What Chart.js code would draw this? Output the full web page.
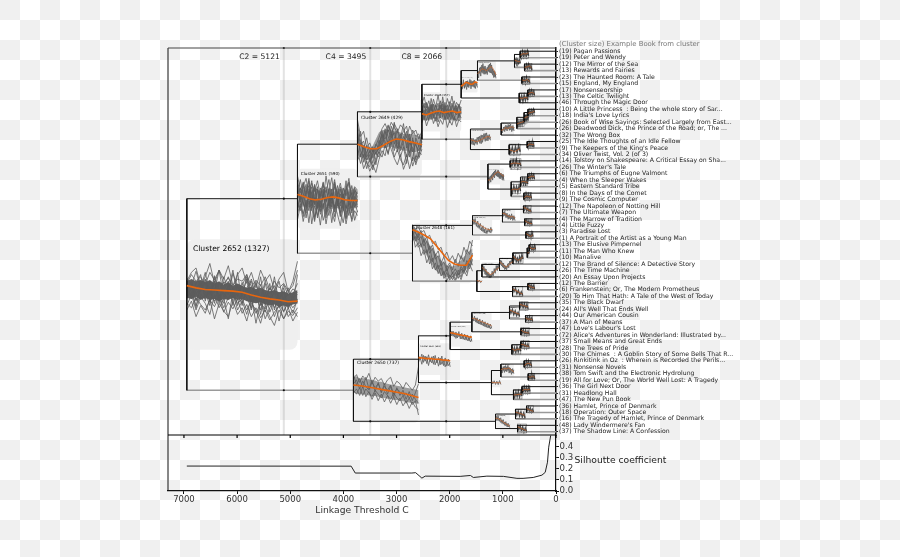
<!DOCTYPE html>
<html>
<head>
<meta charset="utf-8">
<style>
  html, body { margin: 0; padding: 0; width: 900px; height: 557px; overflow: hidden; }
  /* the source image has a baked-in "transparency" checkerboard */
  body { background: conic-gradient(#fff 25%, #f0f0f0 0 50%, #fff 0 75%, #f0f0f0 0) 0 0 / 40px 40px; }
  canvas { display: block; }
</style>
<script src="https://cdn.jsdelivr.net/npm/chart.js@4/dist/chart.umd.min.js"></script>
</head>
<body>
<canvas id="dendro" width="900" height="557"></canvas>
<script>
const leafSizes = [19,19,12,13,23,15,17,13,46,10,18,26,26,32,25,9,34,14,26,6,4,5,8,9,12,7,4,4,3,1,13,11,10,12,26,20,12,6,20,35,24,44,37,47,72,37,28,30,26,31,38,19,36,31,47,36,18,16,48,37];
const leafTitles = [
  "Pagan Passions","Peter and Wendy","The Mirror of the Sea","Rewards and Fairies","The Haunted Room: A Tale","England, My England",
  "Nonsenseorship","The Celtic Twilight","Through the Magic Door","A Little Princess  : Being the whole story of Sar...","India's Love Lyrics",
  "Book of Wise Sayings: Selected Largely from East...","Deadwood Dick, the Prince of the Road; or, The ...","The Wrong Box","The Idle Thoughts of an Idle Fellow",
  "The Keepers of the King's Peace","Oliver Twist, Vol. 2 (of 3)","Tolstoy on Shakespeare: A Critical Essay on Sha...","The Winter's Tale","The Triumphs of Eugne Valmont",
  "When the Sleeper Wakes","Eastern Standard Tribe","In the Days of the Comet","The Cosmic Computer","The Napoleon of Notting Hill","The Ultimate Weapon",
  "The Marrow of Tradition","Little Fuzzy","Paradise Lost","A Portrait of the Artist as a Young Man","The Elusive Pimpernel","The Man Who Knew","Manalive",
  "The Brand of Silence: A Detective Story","The Time Machine","An Essay Upon Projects","The Barrier","Frankenstein; Or, The Modern Prometheus",
  "To Him That Hath: A Tale of the West of Today","The Black Dwarf","All's Well That Ends Well","Our American Cousin","A Man of Means","Love's Labour's Lost",
  "Alice's Adventures in Wonderland: Illustrated by...","Small Means and Great Ends","The Trees of Pride","The Chimes  : A Goblin Story of Some Bells That R...",
  "Rinkitink in Oz  : Wherein is Recorded the Perils...","Nonsense Novels","Tom Swift and the Electronic Hydrolung","All for Love; Or, The World Well Lost: A Tragedy",
  "The Girl Next Door","Headlong Hall","The New Pun Book","Hamlet, Prince of Denmark","Operation: Outer Space","The Tragedy of Hamlet, Prince of Denmark",
  "Lady Windermere's Fan","The Shadow Line: A Confession"
];

// merge tree: [threshold, upper child, lower child], 0 = a leaf book
const tree = [6946,
  [4864,
    [3735,
      [2523,
        [1784,
          [1477, [781, [674,0,0], [593,0,0]], [642,0,0]],
          [692, [529,0,0], 0]],
        [1609,
          [1031, [736, [600, [527,0,0], 0], 0], 0],
          [881, [542,0,0], 0]]],
      [1281,
        [862,0,0],
        [843, [668, [531,0,0], 0], [604,0,0]]]],
    [2700,
      [1571,
        [1007, [612,0,0], [590,0,0]],
        [566,0,0]],
      [1489,
        [1394, [1063, [811, [541, [505,0,0], 0], 0], 0], 0],
        [818, [528,0,0], 0]]]],
  [3811,
    [2587,
      [1991,
        [1583, [875, [687,0,0], [574,0,0]], [660,0,0]],
        [830, [662,0,0], 0]],
      [1214,
        [1037, [599,0,0], [523,0,0]],
        [800, [640,0,0], 0]]],
    [1138,
      [762, [555,0,0], 0],
      [724,0,0]]]];

// lower links that stay black in the picture, the other ones are grey
const blackLowerLinks = [3811,2587,1214,692,1489,1784,1991,1583,1138,1281,1609,1394,1063,1031];

const cutThresholds = [5121,3495,2066];
const cutLabels = ["C2 = 5121","C4 = 3495","C8 = 2066"];

const thresholdTicks = [7000,6000,5000,4000,3000,2000,1000,0];
const silhTicks = [0,0.1,0.2,0.3,0.4];
const silhThresholds = [6946,3854,3777,2712,2640,2523,2461,1803,1610,1555,1300,990,735,620,429,265,203,160,137,100];
const silhValues = [0.225,0.224,0.162,0.162,0.165,0.116,0.134,0.132,0.14,0.122,0.134,0.132,0.114,0.114,0.122,0.143,0.168,0.26,0.395,0.5];

const xTicksLabel = "Linkage Threshold C";
const silhTitle = "Silhoutte coefficient";
const headerText = "(Cluster size) Example Book from cluster";

// inset curves, 0 = bottom of the inset, 100 = top, keyed by merge threshold
const meanCurves = {
  6946:[58,56,54.5,54,53.5,53,52,49.5,47.5,46,45,43.5,44],
  4864:[57,54,50,48,49,52,53,51,48,47,47],
  3811:[58,57,55,53,51,49,47,45,42,39],
  3735:[50,46,43,43,48,54,58,57,54,52,49],
  2700:[89,85,80,74,62,50,38,32,30,30,47],
  2587:[55,54,52,52,50,50,48,47,45],
  2523:[45,42,46,50,52,48,50,52,48,50],
  1991:[64,62,58,55,52,50,46,44],
  1784:[38,48,62,58,50,52,64,60],
  1609:[48,44,40,40,46,54,60,64,60],
  1583:[70,68,62,58,52,48,42,38,32],
  1571:[75,70,60,50,40,32,28,30],
  1489:[60,50,40],
  1477:[32,45,60,55,50,62,72,55,28],
  1394:[70,55,38,28,38,58,68],
  1281:[28,30,42,58,72,80,72,60,52],
  1214:[55,50,48,50,46],
  1138:[72,70,60,48,36,26,18],
  1063:[72,58,40,30,42,60,70],
  1037:[55,65,62,70,55,40],
  1031:[40,45,60,55,62,68,58],
  1007:[70,65,50,40,45,30],
  881:[50,40,32,45,60],
  875:[75,60,45,32],
  862:[50,60,58,50],
  843:[40,50,45,60],
  830:[60,40,55,50],
  818:[75,60,40,25],
  811:[70,50,30,45,65],
  800:[45,50,55,55],
  781:[65,50,40,35],
  762:[70,60,50,35],
  736:[35,50,60,70],
  724:[70,55,40,28],
  692:[50,45,55,50],
  687:[72,60,50,40],
  674:[40,60,55,70],
  668:[45,55,50,40],
  662:[55,50,35,30],
  660:[70,50,40,35],
  642:[55,45,60,30],
  640:[40,55,50,60],
  612:[75,60,40,25],
  604:[30,55,45,40],
  600:[30,45,60,70],
  599:[30,55,60,35],
  593:[50,55,70,40],
  590:[70,50,35,30],
  574:[65,45,50,35],
  566:[70,50,30,55],
  555:[60,45,30,20],
  542:[35,60,55,50],
  541:[40,60,50,65],
  531:[40,50,65,50],
  529:[35,55,60,40],
  528:[70,50,40,30],
  527:[35,50,55,70],
  523:[55,45,60,40],
  505:[70,45,35,50]
};

const bandUpper = {
  6946:[62,64,62,63,61,63,60,62,59,61,58,60,58,56,57,55,56,54,53,54,52,53,51,52,54],
  4864:[66,68,64,70,66,64,68,66,62,66,64,68,66,62,66,64,68,62,66,64,66,64],
  3811:[70,71,68,69,67,67,65,65,63,63,61,60,59,58,57,56,55,54,53,52,51,50],
  3735:[66,56,48,42,42,48,58,68,72,72,72,72,70,70,68,66,66,66,66,64,62,62],
  2700:[94,92,88,84,78,72,64,58,50,44,38,34,30,28,28,30,34,38,44,48,54,58],
  2523:[66,66,64,66,68,68,66,66,68,66,64,66,66,64,66,64,64,64]
};
const bandLower = {
  6946:[47,46,48,45,47,45,46,44,46,45,47,45,46,44,43,42,43,41,40,41,39,40,39,41,42],
  4864:[36,34,38,32,36,34,38,34,36,32,38,34,32,36,34,32,36,34,32,36,34,34],
  3811:[46,45,44,44,43,42,41,41,40,39,38,37,37,35,35,34,33,32,31,30,30,29],
  3735:[38,30,28,26,26,30,36,42,44,44,46,46,44,42,42,40,40,40,38,38,40,40],
  2700:[74,72,68,62,54,46,38,30,22,18,14,12,10,10,10,12,14,16,20,24,28,32],
  2523:[30,28,28,30,32,32,30,32,34,30,30,30,30,28,30,28,28,30]
};

const grayCurves = {
  6946:[
    [60,68,62,66,59,70,63,72,60,65,58,64,62,68,57,63,58,66,54,62,56,60,53,58,72],
    [48,52,40,50,46,53,44,49,38,47,50,42,46,36,44,33,42,37,45,30,41,35,43,33,46],
    [55,62,50,58,64,52,60,47,57,66,54,49,61,52,64,48,59,46,56,50,62,44,52,47,50],
    [42,38,47,41,36,45,39,48,34,43,37,46,33,41,30,38,29,36,27,34,40,28,35,31,38],
    [65,58,71,55,63,49,67,54,61,50,69,57,48,66,52,60,47,62,51,58,45,59,49,55,52],
    [50,57,45,53,61,43,56,50,42,59,47,52,40,55,44,51,36,49,42,54,38,47,40,45,43],
    [58,46,54,62,48,57,42,61,51,46,56,40,52,47,38,53,44,34,48,38,46,52,37,48,42],
    [62,70,74,58,66,78,60,72,64,76,58,68,74,60,70,56,72,62,68,54,64,70,52,62,80],
    [36,44,30,40,33,46,28,42,35,30,44,32,38,26,42,36,24,40,30,22,36,28,38,26,34],
    [52,60,44,56,70,50,62,42,66,54,72,48,58,68,46,62,40,60,44,66,42,56,38,50,60],
    [40,50,36,48,42,32,50,38,46,28,52,36,44,32,48,24,44,28,38,46,26,42,30,36,30],
    [56,48,60,68,44,62,52,72,48,58,44,70,42,56,62,44,66,40,60,36,52,46,56,42,68],
    [46,56,38,60,52,40,66,44,54,62,40,58,50,64,36,54,32,52,34,44,48,34,44,38,44]],
  4864:[
    [60,82,55,74,48,70,40,66,52,78,44,62,85,50,72,42,68,55,76,46,64,58],
    [35,55,20,48,30,62,15,44,28,58,38,22,52,34,60,26,48,18,44,30,54,40],
    [70,48,78,58,84,45,74,36,68,50,88,56,42,75,38,66,50,80,40,72,48,62],
    [25,42,12,35,52,8,38,22,46,14,30,48,10,40,24,5,36,16,42,12,30,22],
    [50,68,40,60,72,30,56,70,35,62,28,46,66,32,55,20,58,34,62,26,50,36],
    [78,60,70,84,58,76,62,80,55,72,60,82,48,70,60,76,52,66,78,56,70,64],
    [42,30,56,18,46,34,12,50,24,42,8,36,52,20,44,30,10,38,22,48,14,30],
    [88,65,76,52,80,44,72,34,60,76,46,66,36,78,54,70,40,62,84,48,68,52],
    [15,38,25,44,10,50,20,36,6,42,18,54,28,12,46,22,40,8,34,16,44,28],
    [62,44,72,36,58,80,42,64,30,54,70,38,60,82,44,58,30,72,48,60,36,50],
    [30,56,42,26,62,38,52,18,48,66,24,44,60,28,50,38,58,24,52,34,62,44]],
  3811:[
    [68,74,62,72,66,76,60,70,64,68,58,66,70,56,64,60,52,62,56,50,58,86],
    [50,44,54,42,52,46,40,50,44,38,48,42,36,46,38,34,42,30,38,28,34,12],
    [60,66,52,64,56,50,62,54,60,48,56,50,58,44,52,48,42,46,38,44,36,30],
    [46,52,42,56,40,48,36,46,34,44,32,42,30,40,28,38,26,34,22,32,24,20],
    [74,58,68,54,70,52,66,48,62,46,60,44,56,40,54,42,50,36,48,34,46,60]],
  3735:[
    [88,62,70,45,52,38,48,60,74,82,70,84,76,68,80,74,60,78,66,72,58,70],
    [60,40,30,48,22,35,50,42,64,58,72,60,68,52,44,62,50,36,56,48,40,55],
    [40,20,34,12,28,15,24,38,30,48,36,54,30,42,26,18,34,12,30,22,38,34],
    [72,48,55,30,40,20,44,36,58,70,50,78,62,44,66,50,30,60,38,52,30,60],
    [25,35,12,24,8,18,6,26,40,32,55,42,28,18,34,11,24,40,16,32,28,42],
    [80,55,42,60,36,46,34,56,48,66,80,64,82,72,60,70,78,54,72,62,66,52],
    [70,30,48,25,34,10,30,50,66,44,78,70,50,74,40,54,70,30,60,26,50,46],
    [50,70,22,38,46,28,38,30,52,74,62,50,84,38,58,82,44,66,24,60,46,64],
    [32,52,40,20,15,42,18,46,70,52,34,66,40,60,30,46,20,52,44,18,34,50]],
  2700:[
    [98,90,94,84,88,76,80,66,70,56,60,44,52,38,46,34,50,40,60,48,70,62],
    [80,86,72,78,62,70,50,58,40,46,28,36,20,30,16,24,14,28,20,38,30,50],
    [92,70,84,60,74,50,62,36,48,24,34,14,26,8,18,6,22,10,30,18,42,30],
    [70,78,60,66,48,56,32,42,22,30,12,20,4,14,6,18,8,24,16,34,24,40],
    [96,84,76,88,68,78,56,64,46,54,34,44,26,34,22,40,28,46,36,56,48,72],
    [86,60,68,46,56,34,46,24,34,16,26,8,18,5,12,3,16,6,22,12,32,20]],
  2587:[
    [62,48,66,40,60,36,64,42,58,34,62,38,56,32,60,30,54,28,50,26],
    [40,56,34,62,44,58,30,52,38,60,32,50,28,54,34,46,26,44,30,40]],
  2523:[
    [70,88,60,78,52,82,62,92,58,76,50,84,64,90,56,74,62,80],
    [40,55,28,46,62,34,50,24,44,60,30,48,22,52,36,26,46,34],
    [58,30,72,44,84,50,68,40,78,36,66,44,76,32,60,42,70,48],
    [22,40,14,32,48,20,36,12,30,18,42,10,28,16,38,12,30,24],
    [82,60,74,50,66,38,56,72,46,88,54,68,40,60,78,50,66,44],
    [50,72,42,62,30,70,44,58,34,70,42,58,36,72,48,66,38,56],
    [66,44,56,28,70,42,26,54,66,44,74,32,56,42,28,60,34,62]],
  1991:[[78,50,72,44,68,40,70,36,62,34,58,30,54,26,50,24],[60,70,48,64,38,60,46,58,36,52,32,50,28,44,22,36]],
  1784:[[70,20,78,25,66,18,72,30,80,22,68,35,76,24,60,30],[50,30,60,28,40,70,35,62,42,74,38,70,30,62,44,50]],
  1609:[[60,25,55,20,50,24,62,30,72,35,78,40,82,42,74,45],[35,55,22,48,30,60,40,66,28,70,50,80,44,70,50,62]],
  1583:[[85,55,80,50,72,42,66,36,60,30,52,24,46,20,40,18],[70,62,58,70,45,60,40,52,34,48,26,40,22,34,16,28]],
  1571:[[92,55,85,45,72,35,60,22,48,12,38,8,34,15,40,20],[70,80,55,62,40,50,28,38,18,30,10,22,18,28,12,30]],
  1489:[[80,30,70,20,60]],
  1477:[[55,10,65,20,80,35,72,30,60,28,78,40,90,35,60,12,45,8],[25,45,35,70,40,88,30,75,35,68,45,85,38,80,25,50,15,30]],
  1394:[[90,50,75,30,60,15,42,10,30,12,48,20,62,35,80,50,90,60],[65,80,45,62,25,45,20,32,8,25,22,38,40,62,55,78,65,82]],
  1281:[[45,8,50,15,62,28,78,42,92,55,88,48,80,35,72,30,65,25],[20,40,30,55,40,70,50,85,60,75,50,90,40,70,45,62,38,55]],
  1214:[[75,35,70,30,65,28,72,30]],
  1138:[[92,55,88,50,75,35,62,22,48,10,35,5],[70,85,55,72,42,60,30,45,18,35,10,25]],
  1063:[[92,50,78,30,60,12,40,10,55,25,75,45,90,52],[65,82,40,62,25,45,15,35,30,60,50,78,68,85]],
  1037:[[85,30,80,35,88,40,90,30,70,20,65,25],[45,70,50,82,45,78,50,75,35,60,30,55]],
  1031:[[60,20,65,30,80,35,85,40,90,30,78,35],[30,50,40,68,45,75,50,82,45,70,40,65]],
  1007:[[92,45,85,35,70,22,60,18,65,12,50,10],[65,80,50,68,35,55,28,50,25,48,20,40]],
  881:[[80,20,70,15,75,25,85,30]],
  875:[[90,45,80,30,65,20,50,10]],
  862:[[85,25,80,30,90,20,75,30]],
  843:[[70,15,80,25,75,20,88,30]],
  830:[[85,20,70,15,78,25,72,30]],
  818:[[95,50,80,30,60,15,45,8]],
  811:[[90,40,70,20,50,12,65,30,85,45]],
  800:[[75,20,80,30,85,25,80,35]],
  781:[[88,30,75,20,65,15,60,10]],
  762:[[90,40,80,30,72,20,60,10]],
  736:[[60,10,72,20,82,30,92,40]],
  724:[[92,40,78,28,65,15,55,8]],
  692:[[80,20,75,15,82,25,78,25]],
  687:[[92,40,80,30,72,22,65,12]],
  674:[[70,15,85,25,80,25,90,35]],
  668:[[75,25,85,20,78,15,70,20]],
  662:[[85,30,78,15,60,10,55,8]],
  660:[[90,35,75,20,65,15,55,10]],
  642:[[85,20,70,15,85,25,60,10]],
  640:[[70,15,85,25,78,20,85,30]],
  612:[[95,45,82,30,65,15,50,8]],
  604:[[60,10,85,25,75,15,70,20]],
  600:[[60,10,70,20,85,30,92,45]],
  599:[[60,10,85,25,88,30,65,12]],
  593:[[78,25,85,30,92,40,70,15]],
  590:[[92,45,78,25,65,15,60,10]],
  574:[[88,35,72,20,78,25,60,12]],
  566:[[92,40,78,20,60,10,82,28]],
  555:[[85,35,72,20,60,10,45,5]],
  542:[[65,12,85,30,82,28,78,20]],
  541:[[70,15,88,30,78,25,90,35]],
  531:[[70,15,78,25,90,38,78,20]],
  529:[[65,10,85,25,88,30,70,15]],
  528:[[92,40,78,25,70,15,60,8]],
  527:[[65,10,78,25,82,30,92,45]],
  523:[[82,25,72,20,85,30,70,15]],
  505:[[92,40,72,20,65,12,78,25]]
};

// reference axes: 388 px for 7300 threshold units, 6.45 px per leaf row
const pxPerThreshold = 388 / 7300;
const pxPerLeaf = 6.45;

const blackLinkData = [], grayLinkData = [], crossingDots = [];
const insets = [];
let leafCursor = 0;

function pushLink(list, points) {
  list.push(...points, {x: NaN, y: NaN});
}

function addCrossings(fromT, toT, y) {
  cutThresholds.forEach(c => { if (toT < c && c < fromT) crossingDots.push({x: c, y}); });
}

function walk(node) {
  if (node === 0) {
    leafCursor++;
    return {t: 0, y: leafCursor, size: leafSizes[leafCursor - 1]};
  }
  const [t, upperNode, lowerNode] = node;
  const upper = walk(upperNode), lower = walk(lowerNode);
  const y = (upper.y + lower.y) / 2;
  const size = upper.size + lower.size;
  pushLink(blackLinkData, [{x: upper.t, y: upper.y}, {x: t, y: upper.y}, {x: t, y: lower.y}]);
  const lowerList = blackLowerLinks.includes(t) ? blackLinkData : grayLinkData;
  pushLink(lowerList, [{x: t, y: lower.y}, {x: lower.t, y: lower.y}]);
  addCrossings(t, upper.t, upper.y);
  addCrossings(t, lower.t, lower.y);

  // inset runs up to the nearest child, small merges get a narrower one
  const child = Math.max(upper.t, lower.t);
  const tEnd = t > 1700 ? child : Math.max(child, t * 0.765);
  const half = (t - tEnd) * pxPerThreshold / pxPerLeaf / 2;
  insets.push({t, tEnd, y, half, size});
  return {t, y, size};
}
walk(tree);

cutThresholds.forEach(c => crossingDots.push({x: c, y: 0.5}));

function curvePoints(inset, values) {
  return values.map((v, i) => ({
    x: inset.t + (inset.tEnd - inset.t) * i / (values.length - 1),
    y: inset.y + inset.half * (1 - 2 * v / 100)
  }));
}

const grayData = [], smudgeData = [], thickMeanData = [], thinMeanData = [], bandSets = [];
insets.forEach(inset => {
  const grayList = inset.t < 1000 ? smudgeData : grayData;
  (grayCurves[inset.t] || []).forEach(line => grayList.push(...curvePoints(inset, line), {x: NaN, y: NaN}));
  const meanList = inset.t > 1700 ? thickMeanData : thinMeanData;
  meanList.push(...curvePoints(inset, meanCurves[inset.t]), {x: NaN, y: NaN});
  if (bandUpper[inset.t]) {
    bandSets.push({type: 'scatter', showLine: true, pointRadius: 0, borderWidth: 0, order: 5,
      borderColor: 'transparent', data: curvePoints(inset, bandUpper[inset.t])});
    bandSets.push({type: 'scatter', showLine: true, pointRadius: 0, borderWidth: 0, order: 5,
      borderColor: 'transparent', backgroundColor: inset.t === 6946 ? '#5f5f5f' : 'rgba(90,90,90,0.55)',
      fill: '-1', data: curvePoints(inset, bandLower[inset.t])});
  }
});

// cluster ids count down from the root in merge order
const sortedInsets = [...insets].sort((a, b) => b.t - a.t);
sortedInsets.forEach((inset, i) => { inset.id = 2652 - i; });

const baseLine = {type: 'scatter', showLine: true, pointRadius: 0, tension: 0, spanGaps: false};

const insetPlugin = {
  id: 'insetPlugin',
  beforeDatasetsDraw(chart) {
    const {ctx, scales: {x, y}} = chart;
    ctx.save();
    ctx.fillStyle = 'rgba(238,238,238,0.9)';
    insets.forEach(inset => {
      const left = x.getPixelForValue(inset.t), right = x.getPixelForValue(inset.tEnd);
      const top = y.getPixelForValue(inset.y - inset.half), bottom = y.getPixelForValue(inset.y + inset.half);
      ctx.beginPath();
      ctx.roundRect(left, top, right - left, bottom - top, (right - left) * 0.07);
      ctx.fill();
    });
    ctx.restore();
  },
  afterDatasetsDraw(chart) {
    const {ctx, scales: {x, y, y2}, chartArea} = chart;
    ctx.save();
    ctx.textBaseline = 'middle';

    // dark frames round the small insets, they read as black boxes in the picture
    ctx.strokeStyle = 'rgba(0,0,0,0.5)';
    ctx.lineWidth = 0.6;
    insets.filter(inset => inset.t < 1000).forEach(inset => {
      const left = x.getPixelForValue(inset.t), right = x.getPixelForValue(inset.tEnd);
      const top = y.getPixelForValue(inset.y - inset.half), bottom = y.getPixelForValue(inset.y + inset.half);
      ctx.strokeRect(left, top, right - left, bottom - top);
    });

    // inset titles
    ctx.fillStyle = '#000';
    ctx.textAlign = 'left';
    insets.forEach(inset => {
      const left = x.getPixelForValue(inset.t), right = x.getPixelForValue(inset.tEnd);
      const top = y.getPixelForValue(inset.y - inset.half);
      const w = right - left;
      ctx.font = (w * 0.069) + 'px "DejaVu Sans"';
      ctx.fillText('Cluster ' + inset.id + ' (' + inset.size + ')', left + w * 0.055, top + w * 0.085);
    });

    // threshold labels
    ctx.font = '7.6px "DejaVu Sans"';
    ctx.fillStyle = '#222';
    ctx.textAlign = 'right';
    cutThresholds.forEach((c, i) => ctx.fillText(cutLabels[i], x.getPixelForValue(c) - 4, y.top + 8.7));

    ctx.textAlign = 'left';
    ctx.font = '6.9px "DejaVu Sans"';
    ctx.fillStyle = '#777';
    ctx.fillText(headerText, chartArea.right + 3, y.top - 3.5);

    ctx.font = '9.2px "DejaVu Sans"';
    ctx.fillStyle = '#222';
    ctx.fillText(silhTitle, chartArea.right + 18.5, y2.top + 25.3);

    // spines
    ctx.strokeStyle = '#111';
    ctx.lineWidth = 1;
    ctx.beginPath();
    ctx.moveTo(chartArea.left, chartArea.bottom);
    ctx.lineTo(chartArea.left, chartArea.top);
    ctx.stroke();
    ctx.strokeStyle = '#444';
    ctx.beginPath();
    ctx.moveTo(chartArea.left, chartArea.top);
    ctx.lineTo(chartArea.right, chartArea.top);
    ctx.stroke();
    ctx.strokeStyle = '#000';
    ctx.lineWidth = 1.2;
    ctx.beginPath();
    ctx.moveTo(chartArea.left, y.bottom);
    ctx.lineTo(chartArea.right, y.bottom);
    x.ticks.forEach(t => {
      const px = x.getPixelForValue(t.value);
      ctx.moveTo(px, y.bottom);
      ctx.lineTo(px, y.bottom + 3);
    });
    ctx.stroke();
    ctx.restore();
  }
};

const chart = new Chart(document.getElementById('dendro'), {
  type: 'scatter',
  plugins: [insetPlugin],
  data: {
    datasets: [
      {...baseLine, order: 1, borderColor: '#e8660e', borderWidth: 1.6, data: thickMeanData},
      {...baseLine, order: 1, borderColor: 'rgba(205,100,40,0.9)', borderWidth: 0.8, data: thinMeanData},
      {...baseLine, order: 2, borderColor: '#111', borderWidth: 1, data: blackLinkData},
      {...baseLine, order: 2, borderColor: '#9a9a9a', borderWidth: 1.6, data: grayLinkData},
      {type: 'scatter', order: 0, pointRadius: 1.1, borderWidth: 0, backgroundColor: '#111', clip: false, data: crossingDots},
      {...baseLine, order: 4, borderColor: '#5c5c5c', borderWidth: 0.8, data: grayData},
      {...baseLine, order: 4, borderColor: '#4c4c4c', borderWidth: 1.5, data: smudgeData},
      ...bandSets,
      ...cutThresholds.map(c => ({...baseLine, order: 6, borderColor: 'rgba(150,150,150,0.27)', borderWidth: 2,
        data: [{x: c, y: 0.5}, {x: c, y: 60.5}]})),
      {...baseLine, order: 1, yAxisID: 'y2', borderColor: '#222', borderWidth: 1,
        data: silhThresholds.map((t, i) => ({x: t, y: silhValues[i]}))}
    ]
  },
  options: {
    responsive: false,
    animation: false,
    layout: {padding: {left: 168, top: 48, right: 0, bottom: 36}},
    plugins: {legend: {display: false}, tooltip: {enabled: false}},
    scales: {
      x: {
        type: 'linear', reverse: true, min: 0, max: 7300,
        border: {color: '#111', width: 1.2},
        grid: {drawOnChartArea: false, tickLength: 3, color: '#111'},
        afterBuildTicks(scale) { scale.ticks = thresholdTicks.map(value => ({value})); },
        ticks: {autoSkip: false, maxRotation: 0, padding: 1, color: '#333',
          font: {family: 'DejaVu Sans', size: 8.5}, callback: v => String(v)},
        title: {display: true, text: xTicksLabel, color: '#333', padding: {top: 0, bottom: 4.5},
          font: {family: 'DejaVu Sans', size: 9.2}},
        afterFit(scale) { scale.height = 30; }
      },
      y: {
        type: 'linear', position: 'right', reverse: true, min: 0.5, max: 60.5,
        stack: 'rows', stackWeight: 387,
        border: {color: '#000', width: 1.5},
        grid: {drawOnChartArea: false, tickLength: 2, color: '#222'},
        afterBuildTicks(scale) { scale.ticks = leafTitles.map((_, i) => ({value: i + 1})); },
        ticks: {autoSkip: false, maxRotation: 0, padding: 1, color: '#222',
          font: {family: 'DejaVu Sans', size: 6.15},
          callback: v => '(' + leafSizes[v - 1] + ') ' + leafTitles[v - 1]},
        afterFit(scale) { scale.width = 344; }
      },
      y2: {
        type: 'linear', position: 'right', min: 0, max: 0.505,
        stack: 'rows', stackWeight: 56,
        border: {color: '#111', width: 1.2},
        grid: {drawOnChartArea: false, tickLength: 3, color: '#111'},
        afterBuildTicks(scale) { scale.ticks = silhTicks.map(value => ({value})); },
        ticks: {autoSkip: false, padding: 0.5, color: '#333',
          font: {family: 'DejaVu Sans', size: 8.6}, callback: v => v.toFixed(1)},
        afterFit(scale) { scale.width = 344; }
      }
    }
  }
});
</script>
</body>
</html>
